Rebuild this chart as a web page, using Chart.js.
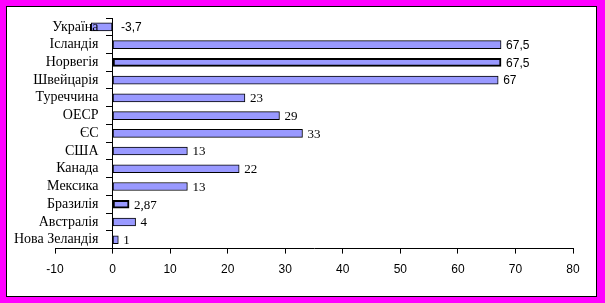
<!DOCTYPE html>
<html>
<head>
<meta charset="utf-8">
<script src="https://cdn.jsdelivr.net/npm/chart.js@4"></script>
<style>
  body { margin: 0; }
  #frame { position: relative; width: 605px; height: 303px; background: #ff00ff; }
  #inner { position: absolute; left: 6px; top: 6px; width: 591px; height: 291px; background: #fff; border: 1px solid #000; box-sizing: border-box; }
  #chart { position: absolute; left: 0; top: 0; }
</style>
</head>
<body>
<div id="frame">
  <div id="inner"></div>
  <canvas id="chart" width="605" height="303"></canvas>
</div>
<script>
const countries = ['Україна', 'Ісландія', 'Норвегія', 'Швейцарія', 'Туреччина', 'ОЕСР', 'ЄС', 'США', 'Канада', 'Мексика', 'Бразилія', 'Австралія', 'Нова Зеландія'];
const values = [-3.7, 67.5, 67.5, 67, 23, 29, 33, 13, 22, 13, 2.87, 4, 1];
const xMin = -10;
const xMax = 80;
const xStep = 10;

// thicker outline on two bars, as in the picture
const borderWidths = countries.map((c, i) => (i === 2 || i === 10) ? 2 : 1);

// value labels next to bar ends
const valueLabels = {
    id: 'valueLabels',
    afterDatasetsDraw(chart) {
        const ctx = chart.ctx;
        const meta = chart.getDatasetMeta(0);
        ctx.save();
        ctx.fillStyle = '#000';
        ctx.textBaseline = 'middle';
        ctx.textAlign = 'left';
        meta.data.forEach((bar, i) => {
            const v = values[i];
            ctx.font = i < 4 ? '12px "Liberation Sans"' : '13px "Liberation Serif"';
            const x = Math.max(bar.x, bar.base) + (v < 0 ? 9 : 5);
            ctx.fillText(String(v).replace('.', ','), x, bar.y + 1);
        });
        ctx.restore();
    }
};

new Chart(document.getElementById('chart'), {
    type: 'bar',
    data: {
        labels: countries,
        datasets: [{
            data: values,
            backgroundColor: '#9999ff',
            borderColor: '#000',
            borderWidth: borderWidths,
            borderSkipped: false,
            barThickness: 8
        }]
    },
    options: {
        indexAxis: 'y',
        responsive: false,
        animation: false,
        layout: { padding: { left: 55, right: 32, top: 18, bottom: 17 } },
        plugins: { legend: { display: false }, tooltip: { enabled: false } },
        scales: {
            x: {
                min: xMin,
                max: xMax,
                ticks: { stepSize: xStep, color: '#000', font: { family: 'Liberation Sans', size: 12 }, padding: 9 },
                grid: { drawOnChartArea: false, tickLength: 5, color: '#000' },
                border: { color: '#000', width: 1 }
            },
            y: {
                position: { x: 0 },
                ticks: {
                    z: 1,
                    autoSkip: false,
                    color: '#000',
                    font: { family: 'Liberation Serif', size: 14 },
                    // an em space keeps the label clear of the axis
                    callback: (v, i) => countries[i] + '\u2003'
                },
                grid: { drawOnChartArea: false, tickLength: 6, color: '#000', offset: true },
                border: { color: '#000', width: 1 }
            }
        }
    },
    plugins: [valueLabels]
});
</script>
</body>
</html>
